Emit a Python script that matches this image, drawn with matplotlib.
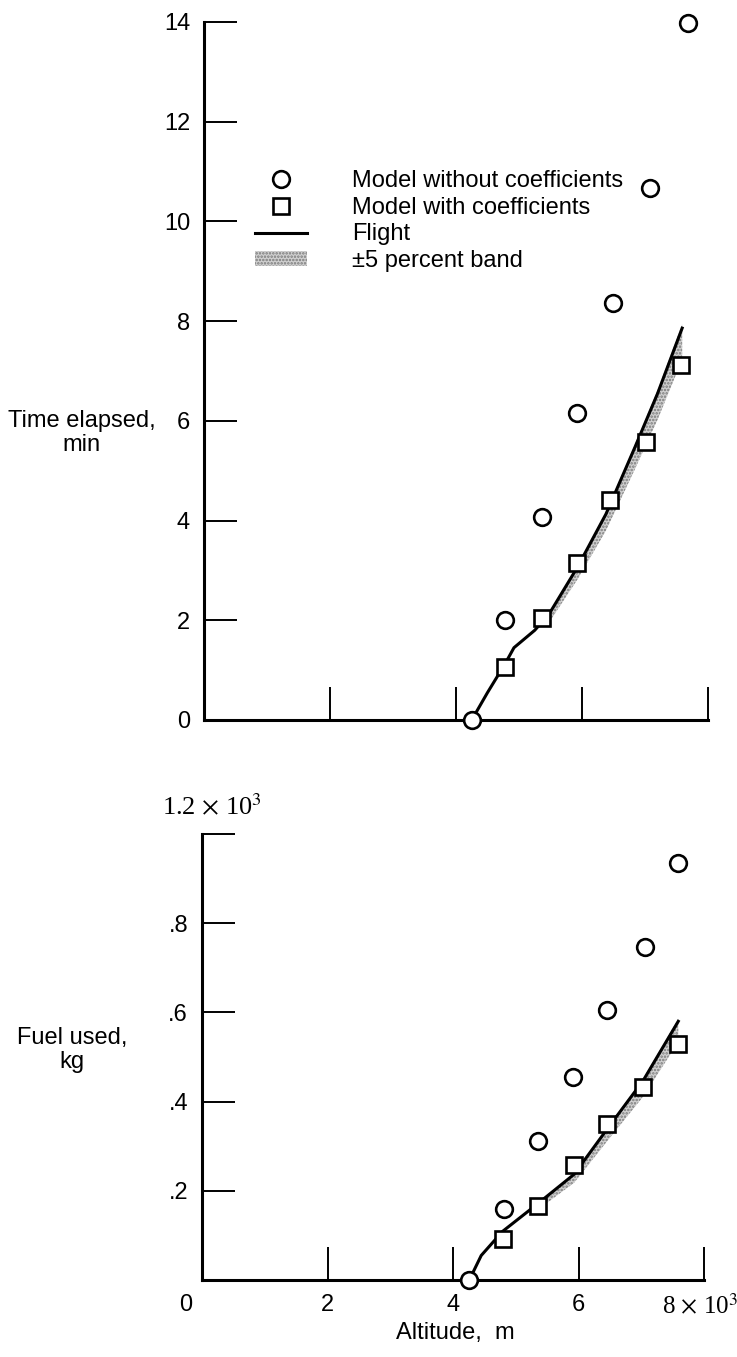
import matplotlib
matplotlib.use('Agg')
import matplotlib.pyplot as plt
import matplotlib.transforms as mtransforms
from matplotlib.lines import Line2D
from matplotlib.patches import Patch

plt.rcParams['font.family'] = ['Liberation Sans', 'DejaVu Sans']
plt.rcParams['font.size'] = 17
plt.rcParams['mathtext.fontset'] = 'stix'
plt.rcParams['hatch.linewidth'] = 1.2

# time elapsed, min vs altitude (x 10^3 m)
t_circ_x = [4.25, 4.78, 5.36, 5.92, 6.49, 7.08, 7.68]
t_circ_y = [0.0, 2.0, 4.07, 6.15, 8.36, 10.67, 13.98]
t_sq_x = [4.78, 5.36, 5.92, 6.45, 7.02, 7.57]
t_sq_y = [1.07, 2.05, 3.15, 4.41, 5.58, 7.12]
t_fl_x = [4.25, 4.5, 4.78, 4.92, 5.25, 5.48, 5.93, 6.38, 6.84, 7.2, 7.59]
t_fl_y = [0.0, 0.55, 1.13, 1.45, 1.8, 2.13, 3.07, 4.13, 5.47, 6.55, 7.86]

# fuel used, 10^3 kg vs altitude
f_circ_x = [4.26, 4.81, 5.35, 5.91, 6.46, 7.06, 7.59]
f_circ_y = [0.0, 0.16, 0.311, 0.455, 0.605, 0.747, 0.934]
f_sq_x = [4.79, 5.36, 5.93, 6.46, 7.03, 7.58]
f_sq_y = [0.093, 0.167, 0.257, 0.350, 0.433, 0.529]
f_fl_x = [4.26, 4.45, 4.79, 5.35, 5.93, 6.46, 7.03, 7.59]
f_fl_y = [0.0, 0.055, 0.109, 0.171, 0.237, 0.339, 0.447, 0.580]

t_yticks = [0, 2, 4, 6, 8, 10, 12, 14]
f_yticks = [0.2, 0.4, 0.6, 0.8, 1.0]
f_ylabels = ['.2', '.4', '.6', '.8', '']
xticks = [2, 4, 6, 8]
x_labels = ['2', '4', '6', '8 $\\times$ 10$^3$']

band_face = '#d0d0d0'
band_edge = '#7a7a7a'


def draw(ax, cx, cy, sx, sy, fx, fy, band_from):
    bx = [x for x in fx if x >= band_from]
    by = [y for x, y in zip(fx, fy) if x >= band_from]
    ax.fill_between(bx, [y * 0.92 for y in by], [y * 1.01 for y in by],
                    facecolor=band_face, edgecolor=band_edge, hatch='.....',
                    linewidth=0, zorder=1)
    ax.plot(fx, fy, color='black', lw=2.2, zorder=2)
    ax.plot(sx, sy, 's', ms=11, mfc='white', mec='black', mew=1.9, zorder=3,
            clip_on=False)
    ax.plot(cx, cy, 'o', ms=12, mfc='white', mec='black', mew=1.9, zorder=4,
            clip_on=False)
    for s in ['top', 'right']:
        ax.spines[s].set_visible(False)
    for s in ['left', 'bottom']:
        ax.spines[s].set_linewidth(2.2)
    ax.tick_params(direction='in', length=24, width=1.4, pad=10)
    ax.set_xlim(0, 8)


fig = plt.figure(figsize=(7.37, 13.57), dpi=100)
W, H = 737, 1357

ax1 = fig.add_axes([204 / W, 1 - 720 / H, 504 / W, 698 / H])
draw(ax1, t_circ_x, t_circ_y, t_sq_x, t_sq_y, t_fl_x, t_fl_y, 5.3)
ax1.set_ylim(0, 14)
ax1.set_yticks(t_yticks)
ax1.set_xticks(xticks)
ax1.tick_params(axis='x', labelbottom=False)
fig.text(82 / W, 1 - 433 / H, 'Time elapsed,\nmin', ha='center', va='center',
         linespacing=1.1)

handles = [
    Line2D([], [], ls='none', marker='o', ms=12, mfc='white', mec='black', mew=1.9),
    Line2D([], [], ls='none', marker='s', ms=11, mfc='white', mec='black', mew=1.9),
    Line2D([], [], color='black', lw=2.2),
    Patch(facecolor=band_face, edgecolor=band_edge, hatch='.....', linewidth=0),
]
labels = ['Model without coefficients', 'Model with coefficients', 'Flight',
          '\u00b15 percent band']
fig.legend(handles, labels, loc='upper left', bbox_to_anchor=(255 / W, 1 - 170 / H),
           frameon=False, borderpad=0, borderaxespad=0, handlelength=2.2,
           handletextpad=1.9, labelspacing=0.2, handleheight=0.6)

ax2 = fig.add_axes([202 / W, 1 - 1280 / H, 502 / W, 446 / H])
draw(ax2, f_circ_x, f_circ_y, f_sq_x, f_sq_y, f_fl_x, f_fl_y, 5.3)
ax2.set_ylim(0, 1.0)
ax2.set_yticks(f_yticks)
ax2.set_yticklabels(f_ylabels)
ax2.set_xticks(xticks)
ax2.set_xticklabels(x_labels)
last = ax2.get_xticklabels()[-1]
last.set_family(['Liberation Serif', 'DejaVu Serif'])
last.set_fontsize(18)
last.set_transform(last.get_transform() +
                   mtransforms.ScaledTranslation(-4 / 100, 0, fig.dpi_scale_trans))
ax2.annotate('0', xy=(0, 0), xytext=(-12, -10), textcoords='offset points',
             ha='center', va='top')
ax2.text(0.02, 1.06, '1.2 $\\times$ 10$^3$', transform=ax2.transAxes,
         ha='center', va='center', fontsize=19,
         family=['Liberation Serif', 'DejaVu Serif'])
fig.text(72 / W, 1 - 1050 / H, 'Fuel used,\nkg', ha='center', va='center',
         linespacing=1.1)
fig.text(455 / W, 1 - 1333 / H, 'Altitude,  m', ha='center', va='center')

fig.savefig('out.png', dpi=100)
